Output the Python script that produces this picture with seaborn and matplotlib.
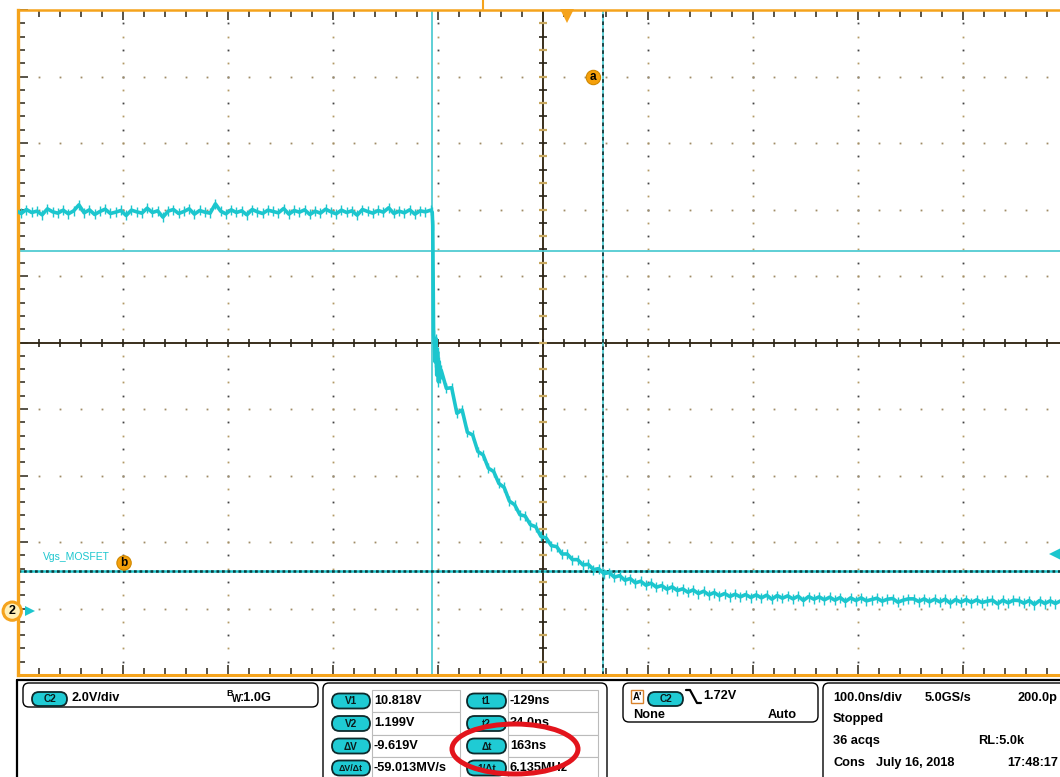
import numpy as np
import pandas as pd
import matplotlib
matplotlib.use('Agg')
import matplotlib.pyplot as plt
import seaborn as sns
from matplotlib.patches import FancyBboxPatch, Ellipse, Rectangle

sns.set_theme(style='white')
plt.rcParams['font.family'] = ['Liberation Sans', 'DejaVu Sans']

# осциллограмма Vgs: время в нс, напряжение в В
flat_v = [12.05, 11.96, 12.08, 11.99, 12.03, 11.92, 12.10, 12.01, 11.97, 12.06,
          11.95, 12.04, 12.22, 11.98, 12.07, 11.93, 12.02, 12.09, 11.96, 12.00,
          12.05, 11.90, 12.06, 12.01, 11.97, 12.12, 11.99, 12.04, 11.85, 12.03,
          12.08, 11.96, 12.02, 12.10, 11.94, 12.05, 12.00, 11.97, 12.25, 12.03,
          11.95, 12.07, 11.99, 12.04, 11.92, 12.08, 12.01, 11.96, 12.06, 12.02,
          11.98, 12.11, 11.94, 12.05, 12.00, 12.07, 11.93, 12.03, 11.97, 12.09,
          12.01, 11.95, 12.06, 11.99, 12.04, 11.91, 12.08, 12.02, 11.97, 12.05,
          12.00, 12.13, 11.96, 12.03, 11.98, 12.07, 11.94, 12.04, 12.01, 12.06]
flat_t = list(range(-525, -125, 5))

edge_t = [-128.5, -128, -127.6, -127.2, -126.5, -125.8, -125, -124.2, -123.4, -122.6, -121.8, -121]
edge_v = [12.0, 11.6, 9.9, 8.3, 8.1, 7.5, 8.2, 7.1, 7.8, 6.9, 7.5, 7.0]

decay_v = [7.25, 6.70, 6.72, 5.95, 6.05, 5.38, 5.30, 4.80, 4.70, 4.30,
           4.20, 3.84, 3.72, 3.31, 3.20, 2.90, 2.86, 2.60, 2.54, 2.25,
           2.20, 1.97, 1.94, 1.72, 1.72, 1.55, 1.55, 1.39, 1.41, 1.25,
           1.28, 1.13, 1.16, 1.02, 1.07, 0.93, 0.98, 0.85, 0.90, 0.78,
           0.84, 0.72, 0.77, 0.66, 0.73, 0.62, 0.67, 0.57, 0.64, 0.53,
           0.60, 0.49, 0.56, 0.46, 0.53, 0.44, 0.51, 0.43, 0.50, 0.41,
           0.49, 0.40, 0.48, 0.36, 0.47, 0.39, 0.46, 0.37, 0.45, 0.32,
           0.44, 0.36, 0.43, 0.34, 0.42, 0.33, 0.41, 0.29, 0.40, 0.32,
           0.40, 0.31, 0.35, 0.39, 0.30, 0.36, 0.38, 0.27, 0.33, 0.37,
           0.37, 0.29, 0.37, 0.28, 0.36, 0.28, 0.36, 0.24, 0.35, 0.27,
           0.35, 0.26, 0.34, 0.26, 0.30, 0.33, 0.22, 0.33, 0.25, 0.33,
           0.32, 0.24, 0.32, 0.20, 0.32, 0.23, 0.31, 0.23, 0.31, 0.23]
decay_t = list(range(-120, -120 + 5 * len(decay_v), 5))

# курсоры и триггер
t1, t2 = -129.0, 34.0
v1, v2 = 10.818, 1.199
trig_level = 1.72

# подписи панелей
left_btn = ['V1', 'V2', 'ΔV', 'ΔV/Δt']
left_val = ['10.818V', '1.199V', '-9.619V', '-59.013MV/s']
right_btn = ['t1', 't2', 'Δt', '1/Δt']
right_val = ['-129ns', '34.0ns', '163ns', '6.135MHz']

trace = pd.DataFrame({'t': flat_t + edge_t + decay_t,
                      'v': flat_v + edge_v + decay_v})

CYAN = '#1cc6ce'
CUR = '#52cbd2'
ORANGE = '#f5a31c'
DARK = '#3a2f1c'

W, H = 1060, 777
fig = plt.figure(figsize=(W / 100, H / 100), dpi=100)
fig.patch.set_facecolor('white')

# экран: 10x10 делений по 105 x 66.5 px
ax = fig.add_axes([18 / W, 1 - 675 / H, 1050 / W, 665 / H])
xlim = (-523, 477)
ylim = (-1.92, 18.08)

x_major = np.linspace(xlim[0], xlim[1], 11)
y_major = np.linspace(ylim[0], ylim[1], 11)
x_minor = np.linspace(xlim[0], xlim[1], 51)
y_minor = np.linspace(ylim[0], ylim[1], 51)

# точечная сетка
for i, xm in enumerate(x_major[1:-1], 1):
    if i == 5:
        continue
    ax.plot(np.full(len(y_minor), xm)[::2], y_minor[::2], ls='none', marker='s', ms=1.3, mew=0, color='#b39a66', zorder=1)
    ax.plot(np.full(len(y_minor), xm)[1::2], y_minor[1::2], ls='none', marker='s', ms=1.3, mew=0, color='#444444', zorder=1)
for i, ym in enumerate(y_major[1:-1], 1):
    if i == 5:
        continue
    ax.plot(x_minor, np.full(len(x_minor), ym), ls='none', marker='s', ms=1.3, mew=0, color='#a08c66', zorder=1)

# центральное перекрестье с рисками
ax.axvline(x_major[5], color=DARK, lw=1.4, zorder=1)
ax.axhline(y_major[5], color=DARK, lw=1.4, zorder=1)
ax.plot(x_minor, np.full(len(x_minor), y_major[5]), ls='none', marker='|', ms=6, mew=1.2, color='#2a2418', zorder=1)
ax.plot(np.full(len(y_minor), x_major[5])[::2], y_minor[::2], ls='none', marker='_', ms=6, mew=1.2, color='#2a2418', zorder=1)
ax.plot(np.full(len(y_minor), x_major[5])[1::2], y_minor[1::2], ls='none', marker='_', ms=6, mew=1.6, color='#c8a860', zorder=1)

# курсоры
ax.axvline(t1, color=CUR, lw=1.3, zorder=2)
ax.axvline(t2, color=CUR, lw=1.3, zorder=2)
ax.axvline(t2, color='#16393a', lw=1.3, ls=(0, (2, 2)), zorder=2)
ax.axhline(v1, color=CUR, lw=1.3, zorder=2)
ax.axhline(v2, color=CYAN, lw=1.8, zorder=2)
ax.axhline(v2, color='#143838', lw=1.8, ls=(0, (1.1, 1.1)), zorder=2)

# сигнал: толстая линия + вертикальные штрихи, чтобы получилась «шумовая» полоса
sns.lineplot(data=trace, x='t', y='v', sort=False, estimator=None, color=CYAN, lw=2.6,
             marker='|', markersize=6.5, markeredgewidth=1.0, markeredgecolor=CYAN, ax=ax, zorder=3)

ax.set_xlim(xlim)
ax.set_ylim(ylim)
ax.set_xlabel('')
ax.set_ylabel('')
ax.set_xticks(x_major)
ax.set_xticks(x_minor, minor=True)
ax.set_yticks(y_major)
ax.set_yticks(y_minor, minor=True)
ax.tick_params(which='both', direction='in', top=True, bottom=True, left=True, right=False,
               labelbottom=False, labelleft=False, color='#2b2418', width=1.1)
ax.tick_params(which='major', length=7.5)
ax.tick_params(which='minor', length=5)
for s in ['left', 'top', 'bottom']:
    ax.spines[s].set_color(ORANGE)
ax.spines['left'].set_linewidth(2.4)
ax.spines['top'].set_linewidth(1.8)
ax.spines['bottom'].set_linewidth(2.2)
ax.spines['right'].set_visible(False)
ax.set_facecolor('white')

# метки a, b, подпись канала
ax.text(t2 - 9, 16.05, 'a', ha='center', va='center', fontsize=8.5, fontweight='bold', color='black',
        bbox=dict(boxstyle='circle,pad=0.1', fc='#f5a00a', ec='#d08800', lw=0.8), zorder=5)
ax.text(-422, v2 + 0.25, 'b', ha='center', va='center', fontsize=8.5, fontweight='bold', color='black',
        bbox=dict(boxstyle='circle,pad=0.1', fc='#f5a00a', ec='#d08800', lw=0.8), zorder=5)
ax.text(-499, 1.62, 'Vgs_MOSFET', ha='left', va='center', fontsize=7.5, color=CYAN, zorder=5)

# маркер триггера, уровень триггера, земля канала 2
ax.plot([0], [17.9], marker='v', ms=10, color=ORANGE, mew=0, clip_on=False, zorder=6)
ax.plot([464.5], [trig_level], marker='<', ms=8.5, color=CYAN, mew=0, clip_on=False, zorder=6)
ax.plot([-512], [0], marker='>', ms=6.5, color=CYAN, mew=0, clip_on=False, zorder=6)
ax.text(-528.5, 0, '2', ha='center', va='center', fontsize=9, fontweight='bold', color='black',
        bbox=dict(boxstyle='circle,pad=0.25', fc='#fff0b8', ec=ORANGE, lw=2.2), zorder=7, clip_on=False)

# нижние панели в пиксельных координатах
ov = fig.add_axes([0, 0, 1, 1], zorder=5)
ov.set_xlim(0, W)
ov.set_ylim(H, 0)
ov.axis('off')


def rbox(x0, y0, x1, y1, r=6, ec='black', fc='none', lw=1.0):
    ov.add_patch(FancyBboxPatch((x0, y0), x1 - x0, y1 - y0, boxstyle=f'round,pad=0,rounding_size={r}',
                                ec=ec, fc=fc, lw=lw))


def pill(x0, y0, x1, y1, label, fs=7.2):
    rbox(x0, y0, x1, y1, r=(y1 - y0) / 2, ec='#0d2a2c', fc='#1fcbd4', lw=1.3)
    ov.text((x0 + x1) / 2, (y0 + y1) / 2 + 0.5, label, ha='center', va='center',
            fontsize=fs, fontweight='bold', color='#0b1c1c')


def txt(x, y, s, fs=9.2, **kw):
    ov.text(x, y, s, ha='left', va='center', fontsize=fs, fontweight='bold', color='black', **kw)


ov.plot([17, W], [680, 680], color='black', lw=1.6)
ov.plot([17, 17], [680, H], color='black', lw=1.6)
ov.plot([483, 483], [0, 9], color=ORANGE, lw=1.5)

# канал
rbox(23, 683, 318, 707)
pill(32, 692, 67, 706, 'C2')
txt(71, 698, '2.0V/div')
txt(226, 693, 'B', fs=6.5)
txt(232, 699, 'W', fs=7)
txt(240, 698, ':1.0G')

# курсоры
rbox(323, 683, 607, 800)
rows = [690, 712, 735, 757, 779]
for k in range(4):
    ov.add_patch(Rectangle((372, rows[k]), 88, rows[k + 1] - rows[k], ec='#bbbbbb', fc='white', lw=0.8))
    ov.add_patch(Rectangle((508, rows[k]), 90, rows[k + 1] - rows[k], ec='#bbbbbb', fc='white', lw=0.8))
    yc = (rows[k] + rows[k + 1]) / 2
    pill(332, yc - 7.5, 370, yc + 7.5, left_btn[k], fs=7.2 if k < 3 else 6.3)
    pill(467, yc - 7.5, 506, yc + 7.5, right_btn[k])
    txt(374, yc, left_val[k])
    txt(510, yc, right_val[k])

# триггер
rbox(623, 683, 818, 722)
ov.add_patch(Rectangle((631, 690), 12, 13, ec='#d9822b', fc='white', lw=1))
ov.text(637, 696.5, "A'", ha='center', va='center', fontsize=7, fontweight='bold', color='black')
pill(648, 692, 683, 706, 'C2')
ov.plot([686, 690, 697, 701], [690, 690, 703, 703], color='black', lw=1.6)
txt(703, 696, '1.72V')
txt(633, 715, 'None')
txt(768, 715, 'Auto')

# развёртка
rbox(823, 683, 1080, 800)
txt(833, 698, '100.0ns/div')
txt(925, 698, '5.0GS/s')
txt(1017, 698, '200.0p')
txt(833, 719, 'Stopped')
txt(833, 741, '36 acqs')
txt(978, 741, 'RL:5.0k')
txt(833, 763, 'Cons')
txt(876, 763, 'July 16, 2018')
txt(1007, 763, '17:48:17')

# красный эллипс вокруг Δt
ov.add_patch(Ellipse((515, 749), 126, 50, fc='none', ec='#e3141c', lw=3.6, zorder=10))

fig.savefig('out.png', dpi=100)
